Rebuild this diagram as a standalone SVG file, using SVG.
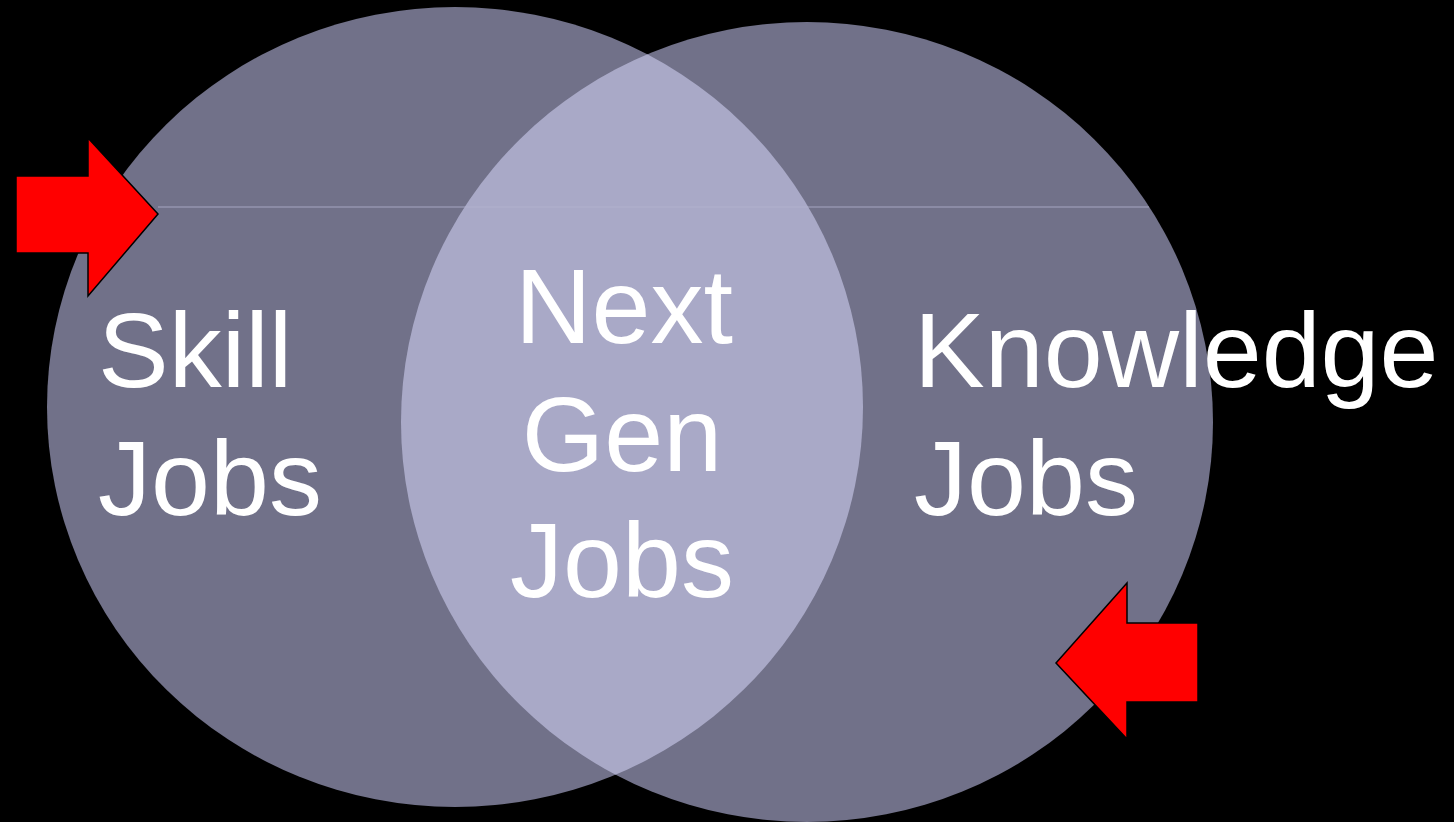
<svg xmlns="http://www.w3.org/2000/svg" width="1454" height="822" viewBox="0 0 1454 822">
  <style>
    .set { fill: #717189; }
    .lens { fill: #a9a9c7; }
    .lbl { font-family: "Liberation Sans", Arial, sans-serif; font-size: 106px; fill: #ffffff; }
    .arrow { fill: #ff0000; stroke: #000000; stroke-width: 1.5; stroke-linejoin: miter; }
  </style>
  <defs>
    <clipPath id="clipLeft">
      <ellipse cx="455" cy="407" rx="408" ry="400"/>
    </clipPath>
  </defs>
  <rect x="0" y="0" width="1454" height="822" fill="#000000"/>

  <g id="skill-set">
    <ellipse class="set" cx="455" cy="407" rx="408" ry="400"/>
  </g>
  <g id="knowledge-set">
    <ellipse class="set" cx="807" cy="422" rx="406" ry="400"/>
  </g>
  <g id="overlap">
    <ellipse class="lens" cx="807" cy="422" rx="406" ry="400" clip-path="url(#clipLeft)"/>
  </g>

  <g id="connectors">
    <line x1="158" y1="207" x2="1149" y2="207" stroke="#b4b4d0" stroke-width="1.2" opacity="0.8"/>
  </g>

  <g id="skill-label">
    <text class="lbl" x="98" y="387">Skill</text>
    <text class="lbl" x="98" y="515">Jobs</text>
  </g>
  <g id="nextgen-label">
    <text class="lbl" x="624" y="343" text-anchor="middle">Next</text>
    <text class="lbl" x="622" y="471" text-anchor="middle">Gen</text>
    <text class="lbl" x="622" y="597" text-anchor="middle">Jobs</text>
  </g>
  <g id="knowledge-label">
    <text class="lbl" x="914" y="387">Knowledge</text>
    <text class="lbl" x="914" y="515">Jobs</text>
  </g>

  <g id="arrow-left">
    <polygon class="arrow" points="16,176 88,176 88,138 158,214 88,296 88,253 16,253"/>
  </g>
  <g id="arrow-right">
    <polygon class="arrow" points="1198,623 1127,623 1127,583 1056,663 1127,739 1127,702 1198,702"/>
  </g>
</svg>
